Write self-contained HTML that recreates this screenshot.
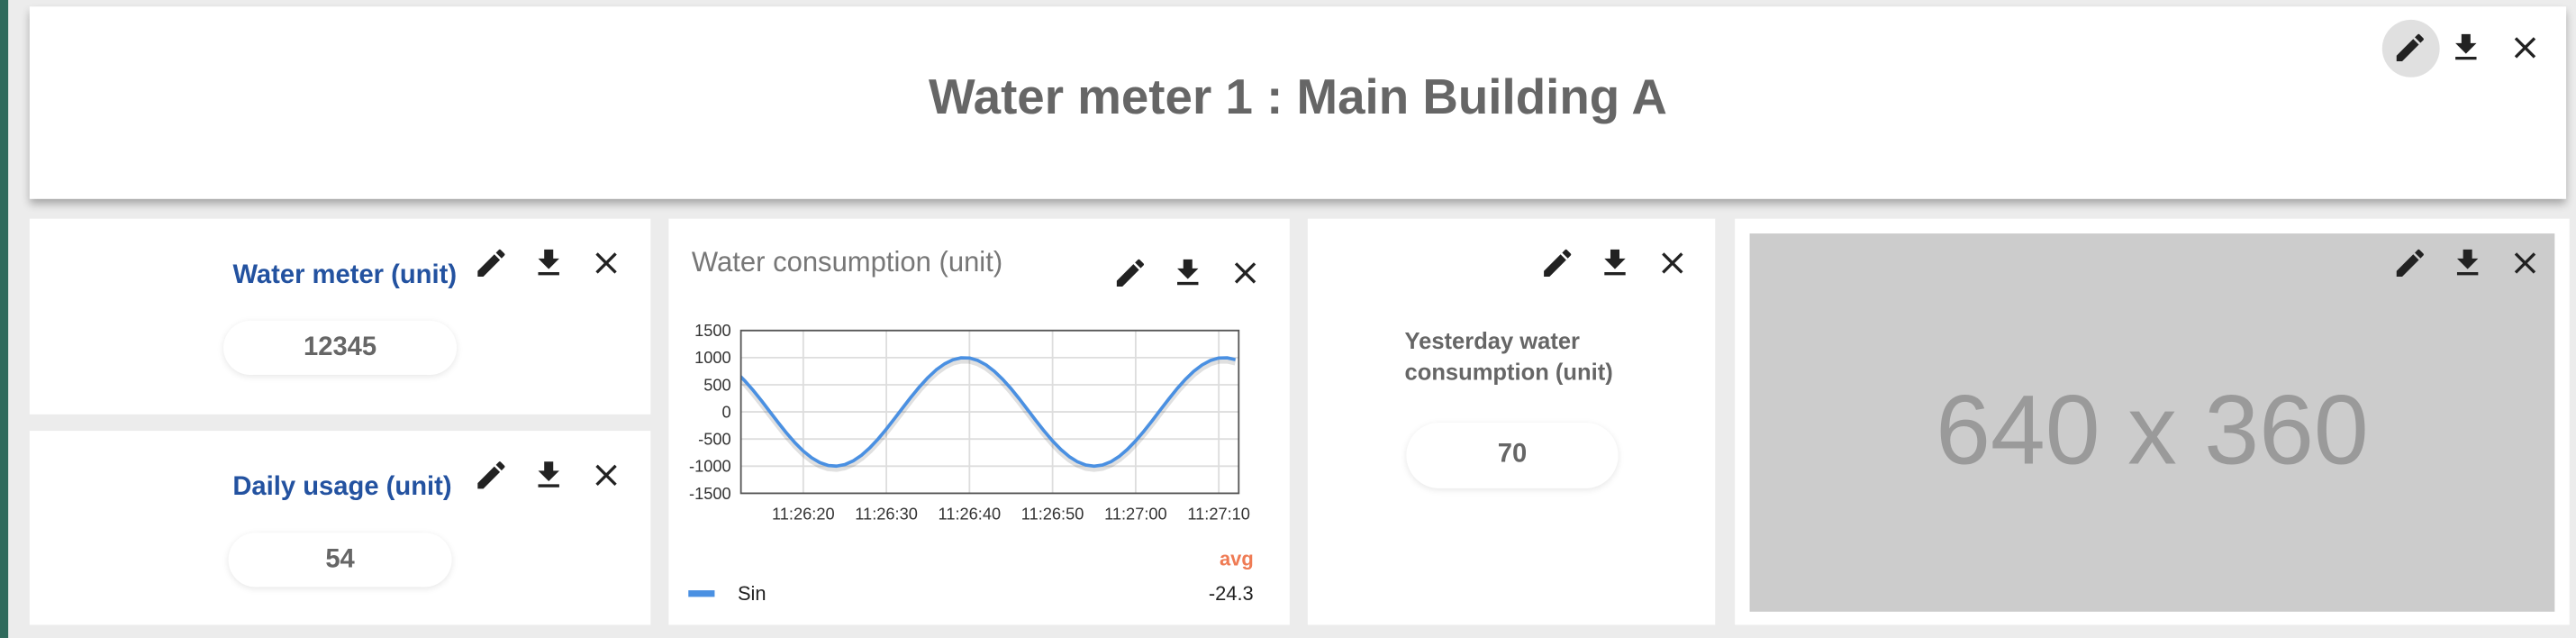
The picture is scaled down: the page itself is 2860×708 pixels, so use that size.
<!DOCTYPE html>
<html><head><meta charset="utf-8">
<style>
html,body{margin:0;padding:0;width:2860px;height:708px;overflow:hidden;background:#ececec;font-family:"Liberation Sans",sans-serif;}
#wrap{position:absolute;left:0;top:0;width:1568px;height:388px;transform:scale(1.824,1.8247);transform-origin:0 0;}
.abs{position:absolute;}
.card{position:absolute;background:#fff;}
.ic{position:absolute;width:22px;height:22px;}
.pill{position:absolute;background:#fff;border-radius:18px;box-shadow:0 1px 4px rgba(0,0,0,0.10);text-align:center;font-weight:bold;color:#666;font-size:16px;}
.ptitle{position:absolute;color:#2352a0;font-weight:bold;font-size:16px;white-space:nowrap;}
</style></head><body>
<div id="wrap">
<div class="abs" style="left:0;top:0;width:5px;height:388px;background:#2f6a5c;"></div>

<div class="card" style="left:18px;top:4px;width:1544px;height:117px;box-shadow:0 3px 5px rgba(0,0,0,0.3);">
  <div class="abs" style="left:0;width:1544px;top:39px;text-align:center;font-size:30px;font-weight:bold;color:#666;">Water meter 1 : Main Building A</div>
  <div class="abs" style="left:1432px;top:8px;width:35px;height:35px;border-radius:50%;background:#e0e0e0;"></div>
  <svg class="ic" style="left:1438px;top:14px" viewBox="0 0 24 24"><path fill="#222" d="M3 17.25V21h3.75L17.81 9.940l-3.75-3.75L3 17.25zM20.71 7.04a1 1 0 0 0 0-1.41l-2.34-2.34a1 1 0 0 0-1.41 0l-1.830 1.83 3.75 3.75 1.83-1.83z"/></svg>
  <svg class="ic" style="left:1472px;top:14px" viewBox="0 0 24 24"><path fill="#222" d="M19 9h-4V3H9v6H5l7 7 7-7zM5 18v2h14v-2H5z"/></svg>
  <svg class="ic" style="left:1508px;top:14px" viewBox="0 0 24 24"><path fill="#222" d="M19 6.41L17.59 5 12 10.59 6.41 5 5 6.41 10.59 12 5 17.59 6.41 19 12 13.41 17.59 19 19 17.59 13.41 12z"/></svg>
</div>

<div class="card" style="left:18px;top:133px;width:378px;height:119px;">
  <div class="ptitle" style="right:118px;top:26px;">Water meter (unit)</div>
  <svg class="ic" style="left:270px;top:16px" viewBox="0 0 24 24"><path fill="#222" d="M3 17.25V21h3.75L17.81 9.94l-3.75-3.75L3 17.25zM20.71 7.04a1 1 0 0 0 0-1.41l-2.34-2.34a1 1 0 0 0-1.41 0l-1.83 1.83 3.75 3.75 1.83-1.83z"/></svg>
  <svg class="ic" style="left:305px;top:16px" viewBox="0 0 24 24"><path fill="#222" d="M19 9h-4V3H9v6H5l7 7 7-7zM5 18v2h14v-2H5z"/></svg>
  <svg class="ic" style="left:340px;top:16px" viewBox="0 0 24 24"><path fill="#222" d="M19 6.41L17.59 5 12 10.59 6.41 5 5 6.41 10.59 12 5 17.59 6.41 19 12 13.41 17.59 19 19 17.59 13.41 12z"/></svg>
  <div class="pill" style="left:118px;top:62px;width:142px;height:33px;line-height:33px;">12345</div>
</div>

<div class="card" style="left:18px;top:262px;width:378px;height:118px;">
  <div class="ptitle" style="right:121px;top:26px;">Daily usage (unit)</div>
  <svg class="ic" style="left:270px;top:16px" viewBox="0 0 24 24"><path fill="#222" d="M3 17.25V21h3.75L17.81 9.94l-3.75-3.75L3 17.25zM20.71 7.04a1 1 0 0 0 0-1.41l-2.34-2.34a1 1 0 0 0-1.41 0l-1.83 1.83 3.75 3.75 1.83-1.83z"/></svg>
  <svg class="ic" style="left:305px;top:16px" viewBox="0 0 24 24"><path fill="#222" d="M19 9h-4V3H9v6H5l7 7 7-7zM5 18v2h14v-2H5z"/></svg>
  <svg class="ic" style="left:340px;top:16px" viewBox="0 0 24 24"><path fill="#222" d="M19 6.41L17.59 5 12 10.59 6.41 5 5 6.41 10.59 12 5 17.59 6.41 19 12 13.41 17.59 19 19 17.59 13.41 12z"/></svg>
  <div class="pill" style="left:121px;top:62px;width:136px;height:33px;line-height:33px;">54</div>
</div>

<div class="card" style="left:407px;top:133px;width:378px;height:247px;">
  <div class="abs" style="left:14px;top:17px;font-size:17px;color:#777;white-space:nowrap;">Water consumption (unit)</div>
  <svg class="ic" style="left:270px;top:22px" viewBox="0 0 24 24"><path fill="#222" d="M3 17.25V21h3.75L17.81 9.94l-3.75-3.75L3 17.25zM20.71 7.04a1 1 0 0 0 0-1.41l-2.34-2.34a1 1 0 0 0-1.41 0l-1.83 1.83 3.75 3.75 1.83-1.83z"/></svg>
  <svg class="ic" style="left:305px;top:22px" viewBox="0 0 24 24"><path fill="#222" d="M19 9h-4V3H9v6H5l7 7 7-7zM5 18v2h14v-2H5z"/></svg>
  <svg class="ic" style="left:340px;top:22px" viewBox="0 0 24 24"><path fill="#222" d="M19 6.41L17.59 5 12 10.59 6.41 5 5 6.41 10.59 12 5 17.59 6.41 19 12 13.41 17.59 19 19 17.59 13.41 12z"/></svg>
  <svg id="chart" class="abs" style="left:0;top:0" width="378" height="247"></svg>
</div>

<div class="card" style="left:796px;top:133px;width:248px;height:247px;">
  <svg class="ic" style="left:141px;top:16px" viewBox="0 0 24 24"><path fill="#222" d="M3 17.25V21h3.75L17.81 9.94l-3.75-3.75L3 17.25zM20.71 7.04a1 1 0 0 0 0-1.41l-2.34-2.34a1 1 0 0 0-1.41 0l-1.83 1.83 3.75 3.75 1.83-1.83z"/></svg>
  <svg class="ic" style="left:176px;top:16px" viewBox="0 0 24 24"><path fill="#222" d="M19 9h-4V3H9v6H5l7 7 7-7zM5 18v2h14v-2H5z"/></svg>
  <svg class="ic" style="left:211px;top:16px" viewBox="0 0 24 24"><path fill="#222" d="M19 6.41L17.59 5 12 10.59 6.41 5 5 6.41 10.59 12 5 17.59 6.41 19 12 13.41 17.59 19 19 17.59 13.41 12z"/></svg>
  <div class="abs" style="left:59px;top:65px;font-size:14px;font-weight:bold;color:#666;line-height:19px;">Yesterday water<br>consumption (unit)</div>
  <div class="pill" style="left:60px;top:124px;width:129px;height:40px;line-height:40px;border-radius:20px;">70</div>
</div>

<div class="card" style="left:1056px;top:133px;width:508px;height:247px;">
  <div class="abs" style="left:9px;top:9px;width:490px;height:230px;background:#cccccc;">
    <div class="abs" style="left:0;width:490px;top:85px;text-align:center;font-size:60px;color:#9a9a9a;">640 x 360</div>
  </div>
  <svg class="ic" style="left:400px;top:16px" viewBox="0 0 24 24"><path fill="#222" d="M3 17.25V21h3.75L17.81 9.94l-3.75-3.75L3 17.25zM20.71 7.04a1 1 0 0 0 0-1.41l-2.34-2.34a1 1 0 0 0-1.41 0l-1.83 1.83 3.75 3.75 1.83-1.83z"/></svg>
  <svg class="ic" style="left:435px;top:16px" viewBox="0 0 24 24"><path fill="#222" d="M19 9h-4V3H9v6H5l7 7 7-7zM5 18v2h14v-2H5z"/></svg>
  <svg class="ic" style="left:470px;top:16px" viewBox="0 0 24 24"><path fill="#222" d="M19 6.41L17.59 5 12 10.59 6.41 5 5 6.41 10.59 12 5 17.59 6.41 19 12 13.41 17.59 19 19 17.59 13.41 12z"/></svg>
</div>
</div>

<script>
// seconds after 11:26:00
const times = [12,13,14,15,16,17,18,19,20,21,22,23,24,25,26,27,28,29,30,31,32,33,34,35,36,37,38,39,40,41,42,43,44,45,46,47,48,49,50,51,52,53,54,55,56,57,58,59,60,61,62,63,64,65,66,67,68,69,70,71,72];
const sinValues = [722,568,392,201,0,-199,-392,-568,-721,-845,-935,-987,-999,-971,-903,-800,-663,-500,-317,-120,80,279,465,632,775,885,961,997,993,948,866,748,600,429,239,39,-162,-355,-535,-693,-823,-920,-980,-1000,-980,-920,-822,-691,-533,-354,-160,42,241,431,602,749,866,948,993,997,962];
const yTicks = [1500,1000,500,0,-500,-1000,-1500];
const xTickTimes = [20,30,40,50,60,70];
const xTickLabels = ["11:26:20","11:26:30","11:26:40","11:26:50","11:27:00","11:27:10"];
const seriesName = "Sin";
const avgValue = "-24.3";

const svg = document.getElementById('chart');
const NS = 'http://www.w3.org/2000/svg';
const L = 44, R = 347, T = 68, B = 167;
const xMin = 12.5, xMax = 72.4, yMin = -1500, yMax = 1500;
const xs = t => L + (t - xMin) / (xMax - xMin) * (R - L);
const ys = v => B - (v - yMin) / (yMax - yMin) * (B - T);
function mk(tag, attrs){ const e = document.createElementNS(NS, tag); for (const k in attrs) e.setAttribute(k, attrs[k]); svg.appendChild(e); return e; }

yTicks.forEach(v => {
  const g = mk('line', {x1:L, x2:R, y1:ys(v), y2:ys(v), stroke:'#ddd', 'stroke-width':1});
  
  
  const t = mk('text', {x:L-6, y:ys(v)+3.5, 'text-anchor':'end', 'font-size':10, fill:'#333', 'font-family':'Liberation Sans, sans-serif'});
  t.textContent = v;
  
  
});
xTickTimes.forEach((tt, i) => {
  const g = mk('line', {x1:xs(tt), x2:xs(tt), y1:T, y2:B, stroke:'#ddd', 'stroke-width':1});
  
  
  const t = mk('text', {x:xs(tt), y:B+16, 'text-anchor':'middle', 'font-size':10, fill:'#333', 'font-family':'Liberation Sans, sans-serif'});
  t.textContent = xTickLabels[i];
  
  
});
const defs = mk('defs', {});
const cp = document.createElementNS(NS, 'clipPath'); cp.setAttribute('id', 'plotclip');
const cr = document.createElementNS(NS, 'rect'); cr.setAttribute('x', L); cr.setAttribute('y', T-3); cr.setAttribute('width', R-L); cr.setAttribute('height', B-T+6);
cp.appendChild(cr); defs.appendChild(cp);

const d = times.map((t, i) => (i ? 'L' : 'M') + xs(t).toFixed(2) + ',' + ys(sinValues[i]).toFixed(2)).join(' ');
const shadow = mk('path', {d:d, fill:'none', stroke:'rgba(0,0,0,0.12)', 'stroke-width':4, transform:'translate(0,1.5)', 'clip-path':'url(#plotclip)', 'stroke-linejoin':'round'});


const line = mk('path', {d:d, fill:'none', stroke:'#4a90e2', 'stroke-width':2, 'clip-path':'url(#plotclip)', 'stroke-linejoin':'round'});



const frame = mk('rect', {x:L, y:T, width:R-L, height:B-T, fill:'none', stroke:'#555', 'stroke-width':1});



const avg = mk('text', {x:356, y:211, 'text-anchor':'end', 'font-size':12, 'font-weight':'bold', fill:'#ef7b54', 'font-family':'Liberation Sans, sans-serif'});
avg.textContent = 'avg';


const sw = mk('rect', {x:12, y:226, width:16, height:4, fill:'#4a90e2'});


const ln = mk('text', {x:42, y:232, 'font-size':12, fill:'#222', 'font-family':'Liberation Sans, sans-serif'});
ln.textContent = seriesName;


const av = mk('text', {x:356, y:232, 'text-anchor':'end', 'font-size':12, fill:'#222', 'font-family':'Liberation Sans, sans-serif'});
av.textContent = avgValue;


</script>
</body></html>
